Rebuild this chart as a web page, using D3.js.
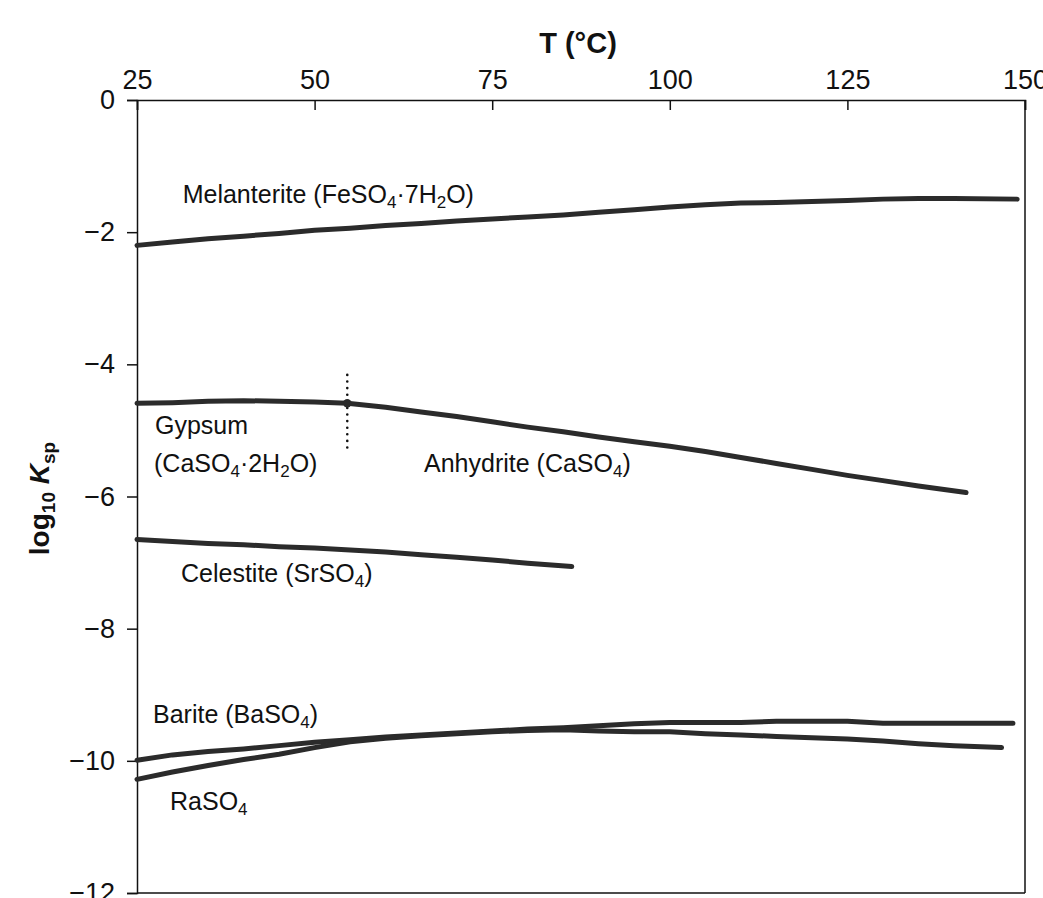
<!DOCTYPE html>
<html>
<head>
<meta charset="utf-8">
<script src="https://cdn.jsdelivr.net/npm/d3@7/dist/d3.min.js"></script>
<style>
  body { margin: 0; background: #fff; }
  text { font-family: "Liberation Sans", Arial, sans-serif; fill: #111; }
</style>
</head>
<body>
<div id="chart"></div>
<script>
// values (T in °C, log10 Ksp)
var xTicks = [25, 50, 75, 100, 125, 150];
var yTicks = [0, -2, -4, -6, -8, -10, -12];

var melT = [25,30,35,40,45,50,55,60,65,70,75,80,85,90,95,100,105,110,115,120,125,130,135,140,148.9];
var melK = [-2.20,-2.15,-2.10,-2.06,-2.02,-1.97,-1.94,-1.90,-1.87,-1.83,-1.80,-1.77,-1.74,-1.70,-1.66,-1.62,-1.585,-1.56,-1.55,-1.535,-1.52,-1.50,-1.49,-1.49,-1.50];

var gypT = [25,30,35,40,45,50,54.6];
var gypK = [-4.59,-4.58,-4.56,-4.55,-4.56,-4.57,-4.59];

var anhT = [54.6,60,65,70,75,80,85,90,95,100,105,110,115,120,125,130,135,141.7];
var anhK = [-4.59,-4.65,-4.72,-4.79,-4.87,-4.95,-5.02,-5.10,-5.17,-5.24,-5.32,-5.41,-5.50,-5.59,-5.68,-5.76,-5.84,-5.94];

var celT = [25,30,35,40,45,50,55,60,65,70,75,80,86.2];
var celK = [-6.65,-6.68,-6.71,-6.73,-6.76,-6.78,-6.81,-6.84,-6.88,-6.92,-6.96,-7.01,-7.06];

var barT = [25,30,35,40,45,50,55,60,65,70,75,80,85,90,95,100,110,115,120,125,130,135,140,148.3];
var barK = [-9.99,-9.91,-9.86,-9.82,-9.77,-9.72,-9.68,-9.64,-9.61,-9.58,-9.55,-9.52,-9.50,-9.47,-9.44,-9.42,-9.42,-9.40,-9.40,-9.40,-9.43,-9.43,-9.43,-9.43];

var raT = [25,30,35,40,45,50,55,60,65,70,75,80,85,90,95,100,105,110,115,120,125,130,135,140,146.7];
var raK = [-10.28,-10.17,-10.07,-9.98,-9.90,-9.80,-9.71,-9.66,-9.62,-9.59,-9.56,-9.54,-9.53,-9.55,-9.56,-9.56,-9.59,-9.61,-9.63,-9.65,-9.67,-9.70,-9.74,-9.77,-9.80];

// gypsum -> anhydrite transition marker
var transT = 54.6;
var transK = -4.59;
var transRange = [-4.16, -5.30];

var margin = { top: 100, right: 18, bottom: 5, left: 137 },
    W = 1043, H = 898,
    width = W - margin.left - margin.right,
    height = H - margin.top - margin.bottom;

var x = d3.scaleLinear().domain([25, 150]).range([0, width]);
var y = d3.scaleLinear().domain([0, -12]).range([0, height]);

var svg = d3.select("#chart").append("svg")
    .attr("width", W)
    .attr("height", H)
  .append("g")
    .attr("transform", "translate(" + margin.left + "," + margin.top + ")");

// frame (right and bottom)
svg.append("line")
    .attr("x1", width).attr("x2", width).attr("y1", 0).attr("y2", height)
    .attr("stroke", "#111").attr("stroke-width", 1.5);
svg.append("line")
    .attr("x1", 0).attr("x2", width).attr("y1", height).attr("y2", height)
    .attr("stroke", "#111").attr("stroke-width", 1.5);

// top x axis, ticks pointing into the plot
var xAxis = svg.append("g")
    .call(d3.axisTop(x).tickValues(xTicks).tickSize(-10).tickPadding(11).tickFormat(d3.format("d")));
xAxis.select(".domain").attr("stroke", "#111").attr("stroke-width", 1.5);
xAxis.selectAll("line").attr("stroke", "#111").attr("stroke-width", 1.5);
xAxis.selectAll("text").style("font-size", "27px").attr("fill", "#111");

// left y axis, ticks outward
var yAxis = svg.append("g")
    .call(d3.axisLeft(y).tickValues(yTicks).tickSize(10).tickPadding(12));
yAxis.select(".domain").attr("stroke", "#111").attr("stroke-width", 1.5);
yAxis.selectAll("line").attr("stroke", "#111").attr("stroke-width", 1.5);
yAxis.selectAll("text").style("font-size", "27px").attr("fill", "#111");

// axis titles
svg.append("text")
    .attr("x", width / 2 - 3)
    .attr("y", -47)
    .attr("text-anchor", "middle")
    .style("font-size", "29px")
    .style("font-weight", "bold")
    .text("T (°C)");

var yt = svg.append("text")
    .attr("transform", "translate(" + (49 - margin.left) + "," + (height / 2 + 2) + ") rotate(-90)")
    .attr("text-anchor", "middle")
    .style("font-size", "28px")
    .style("font-weight", "bold");
yt.append("tspan").text("log");
yt.append("tspan").attr("dy", 6).style("font-size", "19px").text("10");
yt.append("tspan").attr("dy", -6).text(" ");
yt.append("tspan").style("font-style", "italic").text("K");
yt.append("tspan").attr("dy", 6).style("font-size", "19px").text("sp");

// curves
var line = d3.line()
    .x(d => x(d[0]))
    .y(d => y(d[1]));

var series = [
  [melT, melK], [gypT, gypK], [anhT, anhK],
  [celT, celK], [barT, barK], [raT, raK]
];

svg.selectAll(".curve")
    .data(series)
    .enter()
    .append("path")
    .attr("class", "curve")
    .attr("d", s => line(d3.zip(s[0], s[1])))
    .attr("fill", "none")
    .attr("stroke", "#2b2b2b")
    .attr("stroke-width", 5)
    .attr("stroke-linejoin", "round")
    .attr("stroke-linecap", "round");

// dotted transition line + dot
svg.append("line")
    .attr("x1", x(transT)).attr("x2", x(transT))
    .attr("y1", y(transRange[0])).attr("y2", y(transRange[1]))
    .attr("stroke", "#111")
    .attr("stroke-width", 2.6)
    .attr("stroke-linecap", "round")
    .attr("stroke-dasharray", "0,6.6");
svg.append("circle")
    .attr("cx", x(transT)).attr("cy", y(transK))
    .attr("r", 4.2)
    .attr("fill", "#2b2b2b");

// labels: parts are [text, isSubscript]
var labels = [
  { x: 182.7, y: 202.7, parts: [["Melanterite (FeSO", 0], ["4", 1], ["·7H", 0], ["2", 1], ["O)", 0]] },
  { x: 155, y: 434, parts: [["Gypsum", 0]] },
  { x: 154, y: 471.7, parts: [["(CaSO", 0], ["4", 1], ["·2H", 0], ["2", 1], ["O)", 0]] },
  { x: 424, y: 471.7, parts: [["Anhydrite (CaSO", 0], ["4", 1], [")", 0]] },
  { x: 181, y: 581.7, parts: [["Celestite (SrSO", 0], ["4", 1], [")", 0]] },
  { x: 153, y: 722.7, parts: [["Barite (BaSO", 0], ["4", 1], [")", 0]] },
  { x: 170, y: 810, parts: [["RaSO", 0], ["4", 1]] }
];

labels.forEach(l => {
  var t = svg.append("text")
      .attr("x", l.x - margin.left)
      .attr("y", l.y - margin.top)
      .style("font-size", "25px");
  var down = false;
  l.parts.forEach(p => {
    var ts = t.append("tspan").text(p[0]);
    if (p[1]) {
      ts.style("font-size", "17px").attr("dy", down ? 0 : 5);
      down = true;
    } else {
      if (down) ts.attr("dy", -5);
      down = false;
    }
  });
});
</script>
</body>
</html>
